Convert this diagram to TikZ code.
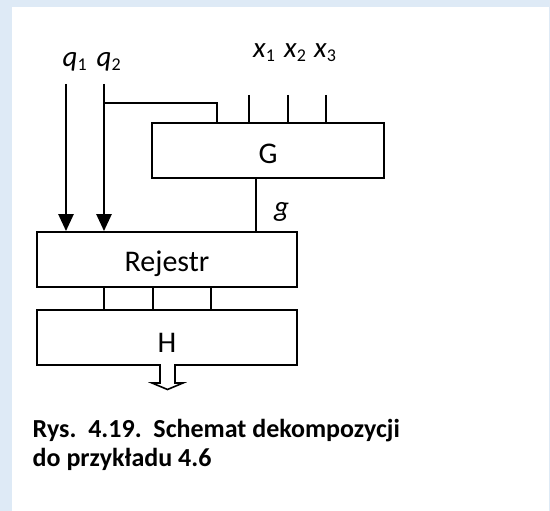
\documentclass[tikz,border=0pt]{standalone}
\usepackage{fontspec}
\setmainfont{Carlito}
\usetikzlibrary{arrows.meta,calc}
\definecolor{bgblue}{RGB}{222,234,246}
\newcommand\mysub[1]{\raisebox{-4pt}{\fontsize{18}{18}\selectfont\upshape #1}}
\begin{document}
\begin{tikzpicture}[x=1pt,y=-1pt,
  blockbox/.style={draw,line width=1.8pt,inner sep=0pt,minimum height=55pt},
  boxlabel/.style={font=\fontsize{30}{36}\selectfont,inner sep=0pt,anchor=base},
  siglabel/.style={font=\fontsize{29}{35}\selectfont\itshape,inner sep=0pt,anchor=base west},
  caption/.style={font=\fontsize{26}{31}\selectfont\bfseries,inner sep=0pt,anchor=base west},
  qline/.style={line width=2.5pt,-{Triangle[width=15pt,length=17pt]}},
  wire/.style={line width=1.6pt}]
% background
\path[fill=bgblue,use as bounding box] (0,0) rectangle (550,511);
\fill[white] (12,7) rectangle (548.5,511);
% blocks
\node[blockbox,minimum width=232pt] (G) at (268,150.5) {};
\node[blockbox,minimum width=260pt] (R) at (167,259.5) {};
\node[blockbox,minimum width=260pt] (H) at (167,337.5) {};
\node[boxlabel] (Glab) at (268,164) {G};
\node[boxlabel] (Rlab) at (167,272) {Rejestr};
\node[boxlabel] (Hlab) at (167,352) {H};
% signal labels
\node[siglabel] (q1lab) at (62.5,67) {q\mysub{1}};
\node[siglabel] (q2lab) at (96.5,67) {q\mysub{2}};
\node[siglabel] (x1lab) at (253,58) {x\mysub{1}};
\node[siglabel] (x2lab) at (284,58) {x\mysub{2}};
\node[siglabel] (x3lab) at (314,58) {x\mysub{3}};
\node[siglabel] (glab) at (274,216) {g};
% coordinates
\coordinate (q1top) at (66,84);
\coordinate (q2top) at (104,84);
\coordinate (br) at (104,103);
\coordinate (brx) at (217,103);
\coordinate (x1top) at (249,95);
\coordinate (x2top) at (288,95);
\coordinate (x3top) at (326,95);
\coordinate (gx) at (256,0);
\coordinate (c1) at (104,0);
\coordinate (c2) at (153,0);
\coordinate (c3) at (211,0);
% wires
\draw[qline] (q1top) -- (q1top |- R.north);
\draw[qline] (q2top) -- (q2top |- R.north);
\draw[wire] (br) -- (brx) -- (brx |- G.north);
\draw[wire] (x1top) -- (x1top |- G.north);
\draw[wire] (x2top) -- (x2top |- G.north);
\draw[wire] (x3top) -- (x3top |- G.north);
\draw[wire,line width=1.8pt] (G.south -| gx) -- (R.north -| gx);
\draw[wire] (R.south -| c1) -- (H.north -| c1);
\draw[wire] (R.south -| c2) -- (H.north -| c2);
\draw[wire] (R.south -| c3) -- (H.north -| c3);
% hollow output arrow
\coordinate (hout) at (167.5,364);
\draw[line width=1.6pt,fill=white,line join=miter]
  ($(hout)+(-7.5,0)$) -- ++(0,19) -- ++(-8,0) -- ++(15.5,6.5) -- ++(15.5,-6.5) -- ++(-8,0) -- ++(0,-19);
% caption
\node[caption] (cap1) at (32.5,437) {Rys.\ \ 4.19.\ \ Schemat dekompozycji};
\node[caption] (cap2) at (32.5,466) {do przykładu 4.6};
\end{tikzpicture}
\end{document}
